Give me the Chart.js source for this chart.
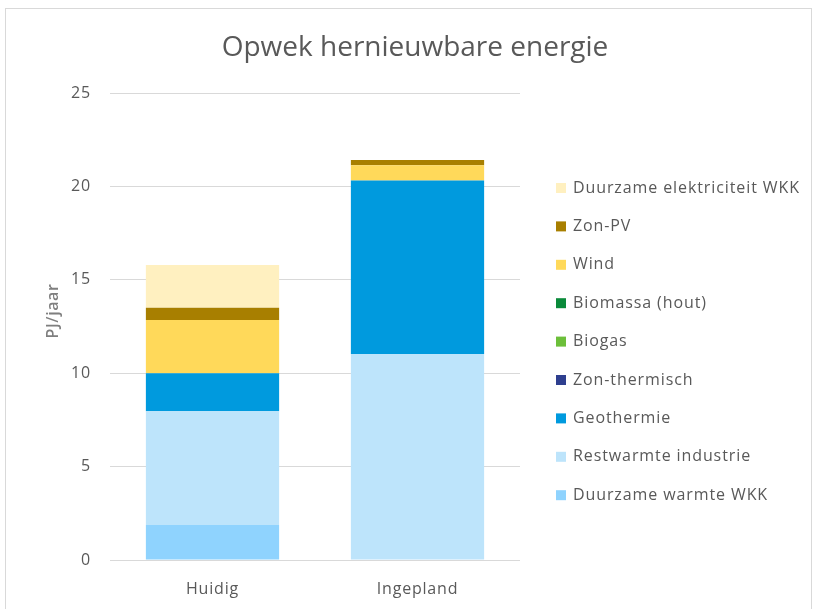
<!DOCTYPE html>
<html><head><meta charset="utf-8">
<script src="https://cdn.jsdelivr.net/npm/chart.js@4"></script>
<style>
html,body{margin:0;padding:0;background:#fff;overflow:hidden;}
#wrap{position:absolute;left:0;top:0;width:816px;height:609px;}
#frame{position:absolute;left:5px;top:8px;width:805px;height:620px;border:1px solid #d9d9d9;pointer-events:none;}
</style></head>
<body>
<div id="wrap"><canvas id="c" width="816" height="609"></canvas></div>
<div id="frame"></div>
<script>
const categories = ["Huidig", "Ingepland"];
const seriesNames = ["Duurzame warmte WKK","Restwarmte industrie","Geothermie","Zon-thermisch","Biogas","Biomassa (hout)","Wind","Zon-PV","Duurzame elektriciteit WKK"];
const duurzameWarmteWKK = [1.87, 0];
const restwarmteIndustrie = [6.09, 11.03];
const geothermie = [2.04, 9.28];
const zonThermisch = [0, 0];
const biogas = [0, 0];
const biomassaHout = [0, 0];
const wind = [2.85, 0.82];
const zonPV = [0.66, 0.28];
const duurzameElektriciteitWKK = [2.28, 0];
const yTicks = [0, 5, 10, 15, 20, 25];
const chartTitle = "Opwek hernieuwbare energie";
const yTitle = "PJ/jaar";
const colors = ["#8fd3fe","#bde4fb","#009ade","#2e3f8f","#6cbf3a","#0a8a3a","#ffd95a","#a87f00","#fff0c0"];
const values = [duurzameWarmteWKK, restwarmteIndustrie, geothermie, zonThermisch, biogas, biomassaHout, wind, zonPV, duurzameElektriciteitWKK];
const font = "'Open Sans', sans-serif";

const spacing = {
  id:'spacing',
  beforeUpdate(chart){ chart.ctx.letterSpacing = '0.8px'; },
  beforeDraw(chart){ chart.ctx.letterSpacing = '0.8px'; }
};

const sideLegend = {
  id:'sideLegend',
  afterDraw(chart){
    const ctx = chart.ctx;
    const ds = chart.data.datasets.slice().reverse();
    const x0 = 556, y0 = 188, step = 38.4, box = 10;
    ctx.save();
    ctx.letterSpacing = '0.9px';
    ctx.font = "16px " + font;
    ctx.textBaseline = 'middle';
    ds.forEach((d,i)=>{
      const y = y0 + i*step;
      ctx.fillStyle = d.backgroundColor;
      ctx.fillRect(x0, y - box/2, box, box);
      ctx.fillStyle = '#595959';
      ctx.fillText(d.label, x0 + 17, y);
    });
    ctx.letterSpacing = '0px';
    ctx.font = "28px " + font;
    ctx.textAlign = 'center';
    ctx.fillStyle = '#595959';
    ctx.fillText(chartTitle, 415, 48);
    ctx.translate(53, 311);
    ctx.rotate(-Math.PI/2);
    ctx.letterSpacing = '0.6px';
    ctx.font = "600 16px " + font;
    ctx.fillStyle = '#7f7f7f';
    ctx.fillText(yTitle, 0, 0);
    ctx.restore();
  }
};

new Chart(document.getElementById('c'), {
  type: 'bar',
  data: {
    labels: categories,
    datasets: seriesNames.map((n,i)=>({label:n, data:values[i], backgroundColor:colors[i], borderWidth:0, categoryPercentage:0.65, barPercentage:1}))
  },
  plugins:[spacing, sideLegend],
  options: {
    responsive:false, animation:false,
    layout:{padding:{left:45,right:296,top:93,bottom:0}},
    plugins:{
      title:{display:false},
      legend:{display:false},
      tooltip:{enabled:false}
    },
    scales:{
      x:{stacked:true,afterFit:(s)=>{s.height=49;},grid:{display:false,drawTicks:false},border:{display:false},ticks:{color:"#595959",font:{family:font,size:16},padding:20}},
      y:{stacked:true,min:0,max:25,afterBuildTicks:(a)=>{a.ticks=yTicks.map(v=>({value:v}));},
         afterFit:(s)=>{s.width=65;},
         grid:{color:"#d9d9d9",drawTicks:false},border:{display:false},
         ticks:{color:"#595959",font:{family:font,size:16},padding:19},
         title:{display:false}}
    }
  }
});
</script>
</body></html>
